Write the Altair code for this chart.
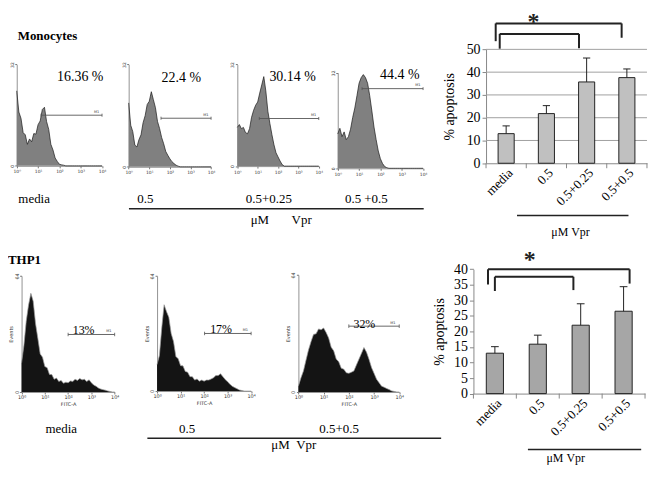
import altair as alt
import pandas as pd

# ------------------------------------------------------------------ data
decade = [round(i / 10, 1) for i in range(41)]   # FITC axis, decades 10^0 .. 10^4

# Monocytes histograms (events, axis max 32)
mono_media = [23.7, 17.0, 15.0, 10.5, 9.8, 6.8, 8.5, 7.6, 10.2, 10.0,
              13.0, 14.2, 17.8, 18.5, 14.0, 11.5, 6.8, 5.0, 2.5, 1.4,
              0.5, 0.3, 0.2, 0.0, 0.0, 0.0, 0.0, 0.0, 0.0, 0.0,
              0.0, 0.0, 0.0, 0.0, 0.0, 0.0, 0.0, 0.0, 0.0, 0.0, 0.0]
mono_05 = [20.0, 13.0, 11.0, 6.8, 6.2, 8.5, 10.0, 13.8, 16.0, 19.5,
           20.5, 23.5, 21.0, 18.5, 14.2, 12.0, 9.2, 7.2, 4.8, 3.6,
           2.5, 1.6, 1.0, 0.5, 0.2, 0.0, 0.0, 0.0, 0.0, 0.0,
           0.0, 0.0, 0.0, 0.0, 0.0, 0.0, 0.0, 0.0, 0.0, 0.0, 0.0]
mono_025 = [12.2, 13.1, 11.8, 12.2, 10.6, 10.2, 11.8, 15.4, 17.6, 19.2,
            20.2, 23.0, 25.6, 28.2, 23.7, 17.3, 13.4, 9.9, 6.7, 4.2,
            2.9, 1.6, 0.5, 0.0, 0.0, 0.0, 0.0, 0.0, 0.0, 0.0,
            0.0, 0.0, 0.0, 0.0, 0.0, 0.0, 0.0, 0.0, 0.0, 0.0, 0.0]
mono_055 = [11.5, 13.4, 10.6, 12.2, 9.6, 10.6, 13.1, 17.0, 20.2, 24.3,
            28.5, 30.4, 31.4, 30.4, 28.5, 24.3, 19.2, 13.8, 9.6, 5.8,
            3.2, 1.6, 0.6, 0.2, 0.0, 0.0, 0.0, 0.0, 0.0, 0.0,
            0.0, 0.0, 0.0, 0.0, 0.0, 0.0, 0.0, 0.0, 0.0, 0.0, 0.0]

# THP1 histograms (events, axis max 64)
thp_media = [16.0, 25.6, 39.0, 48.0, 54.4, 50.0, 37.8, 29.5, 21.0, 19.2,
             14.0, 13.4, 9.6, 9.6, 7.0, 7.7, 5.8, 6.4, 4.8, 5.4,
             5.1, 6.1, 5.8, 7.0, 6.4, 7.4, 6.7, 7.0, 5.8, 6.7,
             5.1, 3.8, 3.2, 2.2, 1.6, 1.3, 1.0, 0.6, 0.3, 0.0, 0.0]
thp_05 = [14.7, 19.8, 35.2, 48.0, 44.2, 41.0, 32.0, 27.5, 19.2, 17.9,
          14.1, 14.0, 10.9, 10.5, 8.0, 8.0, 6.1, 6.7, 5.5, 6.1,
          5.5, 6.1, 6.1, 6.7, 7.4, 8.6, 8.6, 9.6, 8.0, 6.4,
          5.1, 3.8, 2.6, 1.9, 1.3, 0.6, 0.3, 0.0, 0.0, 0.0, 0.0]
thp_055 = [3.2, 7.7, 11.5, 17.3, 23.0, 27.5, 31.5, 31.8, 34.5, 34.0,
           35.0, 32.5, 29.5, 24.5, 22.5, 18.0, 16.5, 13.0, 12.5, 10.5,
           10.2, 10.8, 11.5, 14.7, 17.9, 21.1, 24.3, 21.8, 17.9, 13.4,
           10.2, 7.0, 5.1, 3.2, 2.6, 1.9, 1.3, 0.6, 0.3, 0.0, 0.0]

mono_gate_start = [1.14, 1.57, 1.08, 1.14]
mono_gate_level = [16.0, 15.2, 15.0, 26.7]
mono_gate_pct = ["16.36 %", "22.4 %", "30.14 %", "44.4 %"]
mono_conditions = ["media", "0.5", "0.5+0.25", "0.5 +0.5"]

thp_gate_start = [2.0, 2.02, 2.0]
thp_gate_level = [31.7, 32.0, 36.0]
thp_gate_pct = ["13%", "17%", "32%"]
thp_conditions = ["media", "0.5", "0.5+0.5"]

# bar charts
bar_cats = ["media", "0.5", "0.5+0.25", "0.5+0.5"]
mono_apop = [13.0, 21.8, 35.7, 37.6]
mono_apop_err = [16.4, 25.3, 46.2, 41.4]
thp_apop = [13.0, 15.9, 22.0, 26.5]
thp_apop_err = [15.1, 18.8, 28.9, 34.4]

# significance brackets (x in category units, y in % apoptosis)
mono_br_x0 = [0.24, 0.34]
mono_br_x1 = [3.37, 2.31]
mono_br_top = [61.4, 56.8]
mono_br_leg0 = [53.6, 50.3]
mono_br_leg1 = [55.1, 50.5]
mono_star = [1.18, 67.2]

thp_br_x0 = [0.34, 0.50]
thp_br_x1 = [3.64, 2.33]
thp_br_top = [40.0, 37.6]
thp_br_leg0 = [35.1, 33.0]
thp_br_leg1 = [35.4, 33.3]
thp_star = [1.31, 46.9]

row_titles = ["Monocytes", "THP1"]
vpr_label = "\u03bcM\u00a0Vpr"

# ------------------------------------------------------------------ layout helpers
SERIF = "Liberation Serif"
SANS = "DejaVu Sans"
SX = 640 / 656
SY = 0.955
OY = 3.0


def X(rx):
    return rx * SX


def Y(ry):
    return (ry - OY) * SY


SLOTS = [0, 112, 225, 330, 450, 656]
ROW1 = (3, 240)
ROW2 = (240, 478)


def frame(i, row):
    s0, s1 = SLOTS[i], SLOTS[i + 1]
    w = X(s1) - X(s0)
    h = Y(row[1]) - Y(row[0])

    def lx(rx):
        return X(rx) - X(s0)

    def ly(ry):
        return Y(ry) - Y(row[0])
    return w, h, lx, ly


def text_layer(txt, px, py, size, align="center", baseline="alphabetic",
               weight="normal", font=SERIF):
    return alt.Chart(pd.DataFrame({"t": [txt]})).mark_text(
        align=align, baseline=baseline, fontSize=size, fontWeight=weight,
        font=font, color="black").encode(
        x=alt.value(px), y=alt.value(py), text="t:N")


def rule_px(x0, x1, y, width=1.5):
    return alt.Chart(pd.DataFrame({"k": [0]})).mark_rule(
        color="#222", strokeWidth=width).encode(
        x=alt.value(x0), x2=alt.value(x1), y=alt.value(y))


SUP = "['\u2070','\u00b9','\u00b2','\u00b3','\u2074']"


def hist_panel(i, row, counts, ymax, xr, yr, fill, edge, gstart, glevel,
               pct, pct_xy, pct_size, cond, cond_xy, cond_align, extras, thp):
    w, h, lx, ly = frame(i, row)
    xs = alt.Scale(domain=[0, 4], range=[lx(xr[0]), lx(xr[1])], nice=False, zero=False)
    ys = alt.Scale(domain=[0, ymax], range=[ly(yr[0]), ly(yr[1])], nice=False)
    lab = 5 if thp else 4.5
    xaxis = alt.Axis(orient="bottom", offset=-(h - ly(yr[0])), values=[0, 1, 2, 3, 4],
                     labelExpr="'10' + " + SUP + "[datum.value]", labelFontSize=lab,
                     labelFont=SANS, labelColor="#333", labelFlush=False, labelPadding=1,
                     tickSize=2, tickColor="#777", domainColor="#777", domainWidth=0.8,
                     grid=False, title="FITC-A" if thp else None, titleFontSize=5,
                     titleFont=SANS, titleFontWeight="normal", titlePadding=2,
                     titleColor="#333")
    yaxis = alt.Axis(orient="left", offset=-lx(xr[0]), values=[0, ymax], labelAngle=270,
                     labelFontSize=lab, labelFont=SANS, labelColor="#333", labelPadding=0.5,
                     tickSize=2, tickColor="#777", domainColor="#777", domainWidth=0.8,
                     grid=False, title="Events" if thp else None, titleFontSize=5,
                     titleFont=SANS, titleFontWeight="normal", titlePadding=0.5,
                     titleColor="#333")

    def XQ(f):
        return alt.X(f, scale=xs, axis=xaxis)

    def YQ(f):
        return alt.Y(f, scale=ys, axis=yaxis)

    df = pd.DataFrame({"d": decade, "c": counts})
    area = alt.Chart(df).mark_area(color=fill, opacity=1).encode(x=XQ("d:Q"), y=YQ("c:Q"))
    line = alt.Chart(df).mark_line(color=edge, strokeWidth=0.7).encode(x=XQ("d:Q"), y=YQ("c:Q"))
    gdf = pd.DataFrame({"g0": [gstart], "g1": [4.0], "gy": [glevel]})
    gate = alt.Chart(gdf).mark_rule(color="#555", strokeWidth=0.9).encode(
        x=XQ("g0:Q"), x2="g1:Q", y=YQ("gy:Q"))
    d = ymax * 0.015
    edf = pd.DataFrame({"e": [gstart, 4.0], "y0": [glevel - d] * 2, "y1": [glevel + d] * 2})
    ends = alt.Chart(edf).mark_rule(color="#555", strokeWidth=0.8).encode(
        x=XQ("e:Q"), y=YQ("y0:Q"), y2="y1:Q")
    mdf = pd.DataFrame({"mx": [3.75], "my": [glevel], "t": ["M1"]})
    m1 = alt.Chart(mdf).mark_text(fontSize=3.5, font=SANS, color="#333", dy=-1.5,
                                  baseline="bottom").encode(
        x=XQ("mx:Q"), y=YQ("my:Q"), text="t:N")
    layers = [area, line, gate, ends, m1,
              text_layer(pct, lx(pct_xy[0]), ly(pct_xy[1]), pct_size),
              text_layer(cond, lx(cond_xy[0]), ly(cond_xy[1]), 13, align=cond_align)]
    layers += extras(lx, ly)
    return alt.layer(*layers).properties(width=w, height=h)


BAR_HALF = 0.2
CAP_HALF = 0.09


def bar_panel(row, vals, errs, ymax, ystep, xr, yr, fill, grid, bx0, bx1, btop, bl0, bl1,
              star, vpr_x, vpr_line_y, vpr_text_x, vpr_text_y, title_pad):
    w, h, lx, ly = frame(4, row)
    xs = alt.Scale(domain=[0, 4], range=[lx(xr[0]), lx(xr[1])], nice=False, zero=False)
    ys = alt.Scale(domain=[0, ymax], range=[ly(yr[0]), ly(yr[1])], nice=False)
    label_expr = "[" + ",".join("'%s'" % c for c in bar_cats) + "][floor(datum.value)]"
    xaxis = alt.Axis(orient="bottom", offset=-(h - ly(yr[0])),
                     values=[k + 0.5 for k in range(len(bar_cats))], labelExpr=label_expr,
                     ticks=False, domainColor="#888", labelAngle=315, labelAlign="right",
                     labelBaseline="top", labelFont=SERIF, labelFontSize=13,
                     labelColor="black", labelPadding=3, labelFlush=False,
                     labelOverlap=False, grid=False, title=None)
    yaxis = alt.Axis(orient="left", offset=-lx(xr[0]),
                     values=list(range(0, ymax + 1, ystep)), grid=False, tickSize=4,
                     tickColor="#888", domainColor="#888", labelFont=SERIF,
                     labelFontSize=14, labelColor="black", labelPadding=2,
                     title="% apoptosis", titleFont=SERIF, titleFontSize=14,
                     titleFontWeight="normal", titleColor="black", titlePadding=title_pad)

    def XQ(f):
        return alt.X(f, scale=xs, axis=xaxis)

    def YQ(f):
        return alt.Y(f, scale=ys, axis=yaxis)

    df = pd.DataFrame({"cat": bar_cats, "val": vals, "err": errs})
    df["pos"] = [k + 0.5 for k in range(len(bar_cats))]
    df["l"] = df["pos"] - BAR_HALF
    df["r"] = df["pos"] + BAR_HALF
    df["cl"] = df["pos"] - CAP_HALF
    df["cr"] = df["pos"] + CAP_HALF
    df["zero"] = 0.0
    layers = []
    if grid:
        gdf = pd.DataFrame({"g": list(range(ystep, ymax + 1, ystep))})
        gdf["a"] = 0.0
        gdf["b"] = 4.0
        layers.append(alt.Chart(gdf).mark_rule(color="#a0a0a0", strokeWidth=1).encode(
            x=XQ("a:Q"), x2="b:Q", y=YQ("g:Q")))
    layers.append(alt.Chart(df).mark_bar(color=fill, stroke="#222", strokeWidth=1).encode(
        x=XQ("l:Q"), x2="r:Q", y=YQ("val:Q"), y2="zero:Q"))
    layers.append(alt.Chart(df).mark_rule(color="#222", strokeWidth=1).encode(
        x=XQ("pos:Q"), y=YQ("val:Q"), y2="err:Q"))
    layers.append(alt.Chart(df).mark_rule(color="#222", strokeWidth=1).encode(
        x=XQ("cl:Q"), x2="cr:Q", y=YQ("err:Q")))
    tdf = pd.DataFrame({"b": [0, 1, 2, 3, 4]})
    layers.append(alt.Chart(tdf).mark_rule(color="#888", strokeWidth=1).encode(
        x=XQ("b:Q"), y=alt.value(ly(yr[0])), y2=alt.value(ly(yr[0]) + 5)))
    seg = {"sx": [], "sy": [], "ex": [], "ey": []}
    for a, b, t, l0, l1 in zip(bx0, bx1, btop, bl0, bl1):
        for s in ((a, t, b, t), (a, t, a, l0), (b, t, b, l1)):
            seg["sx"].append(s[0]); seg["sy"].append(s[1])
            seg["ex"].append(s[2]); seg["ey"].append(s[3])
    layers.append(alt.Chart(pd.DataFrame(seg)).mark_rule(color="#222", strokeWidth=2).encode(
        x=XQ("sx:Q"), y=YQ("sy:Q"), x2="ex:Q", y2="ey:Q"))
    sdf = pd.DataFrame({"sx": [star[0]], "sy": [star[1]], "t": ["*"]})
    layers.append(alt.Chart(sdf).mark_text(fontSize=24, font=SERIF, fontWeight="bold",
                                           color="#222", baseline="top").encode(
        x=XQ("sx:Q"), y=YQ("sy:Q"), text="t:N"))
    vdf = pd.DataFrame({"a": [vpr_x[0]], "b": [vpr_x[1]]})
    layers.append(alt.Chart(vdf).mark_rule(color="#222", strokeWidth=1.5).encode(
        x=XQ("a:Q"), x2="b:Q", y=alt.value(ly(vpr_line_y))))
    vt = pd.DataFrame({"x": [vpr_text_x], "t": [vpr_label]})
    layers.append(alt.Chart(vt).mark_text(fontSize=12, font=SERIF, color="black",
                                          baseline="alphabetic").encode(
        x=XQ("x:Q"), y=alt.value(ly(vpr_text_y)), text="t:N"))
    return alt.layer(*layers).properties(width=w, height=h)


MONO_FILL, MONO_EDGE = "#808080", "#1a1a1a"
THP_FILL, THP_EDGE = "#141414", "#9a9a9a"


def no_extra(lx, ly):
    return []


h1 = hist_panel(0, ROW1, mono_media, 32, (9, 97), (165.7, 59), MONO_FILL, MONO_EDGE,
                mono_gate_start[0], mono_gate_level[0], mono_gate_pct[0], (74.5, 76), 14,
                mono_conditions[0], (10.7, 205), "left",
                lambda lx, ly: [text_layer(row_titles[0], lx(10), ly(33), 13,
                                           align="left", weight="bold")], False)
h2 = hist_panel(1, ROW1, mono_05, 32, (123.7, 208.7), (166.7, 59), MONO_FILL, MONO_EDGE,
                mono_gate_start[1], mono_gate_level[1], mono_gate_pct[1], (178, 77), 14,
                mono_conditions[1], (141, 205), "center",
                lambda lx, ly: [rule_px(lx(124), lx(428), ly(211)),
                                text_layer("\u03bcM" + "\u00a0" * 7 + "Vpr", lx(281), ly(227), 13)],
                False)
h3 = hist_panel(2, ROW1, mono_025, 32, (235, 319), (166, 59), MONO_FILL, MONO_EDGE,
                mono_gate_start[2], mono_gate_level[2], mono_gate_pct[2], (292, 76), 14,
                mono_conditions[2], (267.5, 205), "center", no_extra, False)
h4 = hist_panel(3, ROW1, mono_055, 32, (338, 426), (168.3, 67.7), MONO_FILL, MONO_EDGE,
                mono_gate_start[3], mono_gate_level[3], mono_gate_pct[3], (402, 74.5), 14,
                mono_conditions[3], (367.5, 205), "center", no_extra, False)
bar1 = bar_panel(ROW1, mono_apop, mono_apop_err, 50, 10, (490, 656), (163, 43), "#c0c0c0",
                 True, mono_br_x0, mono_br_x1, mono_br_top, mono_br_leg0, mono_br_leg1,
                 mono_star, (0.77, 3.54), 218, 2.1, 240, 10)

b1 = hist_panel(0, ROW2, thp_media, 64, (14, 110), (403.3, 281), THP_FILL, THP_EDGE,
                thp_gate_start[0], thp_gate_level[0], thp_gate_pct[0], (78, 342), 12,
                thp_conditions[0], (55, 446), "center",
                lambda lx, ly: [text_layer(row_titles[1], lx(0), ly(268), 13,
                                           align="left", weight="bold")], True)
b2 = hist_panel(1, ROW2, thp_05, 64, (153, 250), (402.3, 281), THP_FILL, THP_EDGE,
                thp_gate_start[1], thp_gate_level[1], thp_gate_pct[1], (219, 341), 12,
                thp_conditions[1], (184, 446), "center",
                lambda lx, ly: [rule_px(lx(143), lx(446), ly(452)),
                                text_layer("\u03bcM" + "\u00a0" * 2 + "Vpr", lx(294), ly(463), 13)],
                True)
b3 = hist_panel(2, ROW2, thp_055, 64, (298, 402), (403.3, 280), THP_FILL, THP_EDGE,
                thp_gate_start[2], thp_gate_level[2], thp_gate_pct[2], (366, 336), 12,
                thp_conditions[2], (340, 446), "center", no_extra, True)
sw, sh, _, _ = frame(3, ROW2)
spacer = alt.Chart(pd.DataFrame({"t": [""]})).mark_text().encode(
    text="t:N").properties(width=sw, height=sh)
bar2 = bar_panel(ROW2, thp_apop, thp_apop_err, 40, 5, (477, 654), (405, 274), "#a6a6a6",
                 False, thp_br_x0, thp_br_x1, thp_br_top, thp_br_leg0, thp_br_leg1,
                 thp_star, (1.27, 3.91), 464, 2.15, 477, 7)

chart = alt.concat(h1, h2, h3, h4, bar1, b1, b2, b3, spacer, bar2,
                   columns=5, spacing=0, bounds="flush", align="each").properties(
    padding=0).configure(background="white").configure_view(stroke=None)

chart.save("out.html", embed_options={"renderer": "svg", "actions": False})
